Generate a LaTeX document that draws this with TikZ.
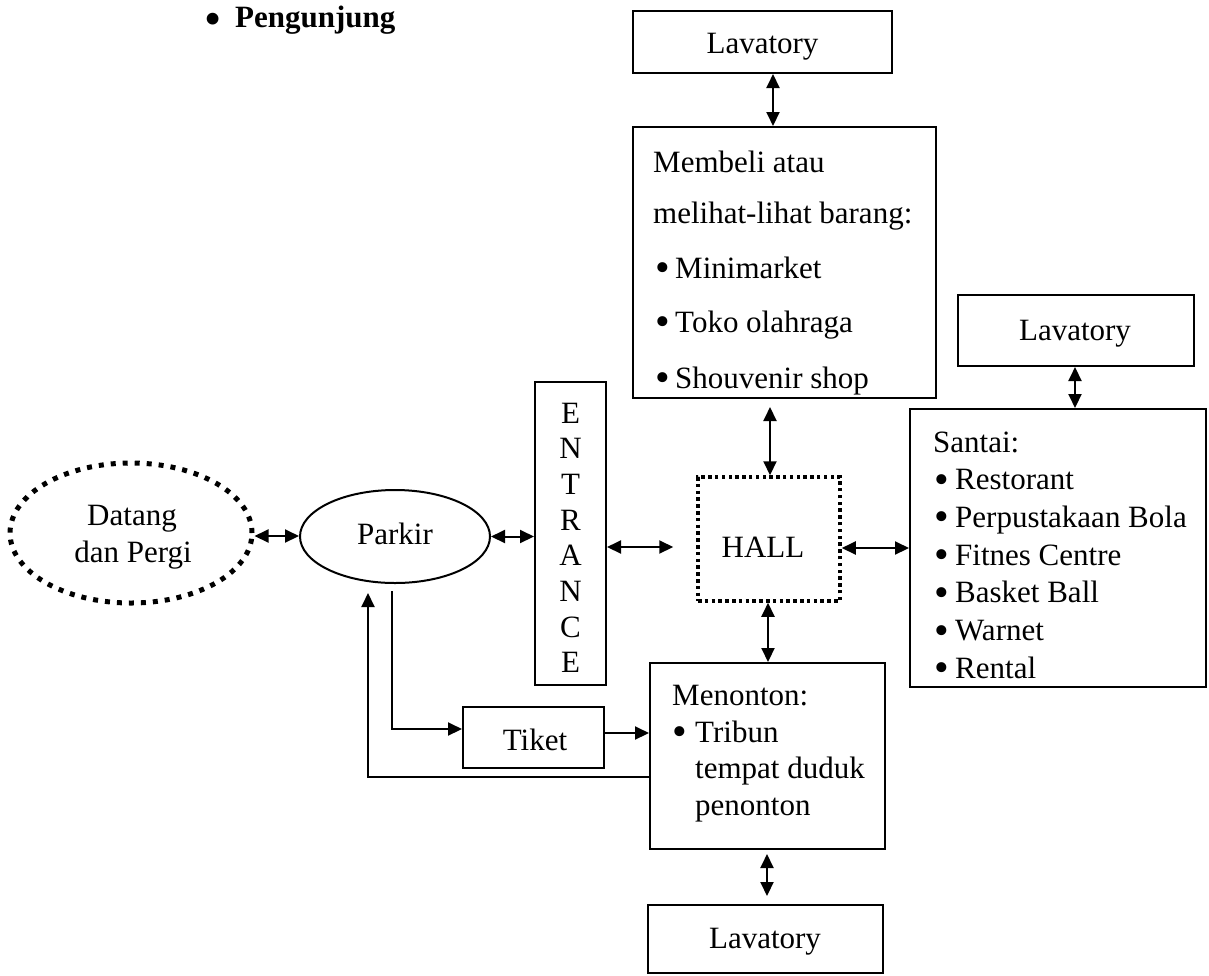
\documentclass[tikz,border=0pt]{standalone}
\usepackage{fontspec}
\setmainfont{Liberation Serif}
\usetikzlibrary{arrows.meta,shapes.geometric}
% enlarged bullet (no extra height or depth) followed by a fixed hanging indent
\newcommand\itm[1][19pt]{\makebox[#1][l]{\raisebox{-3.5pt}[0pt][0pt]{\scalebox{1.35}{•}}}}

\begin{document}
\begin{tikzpicture}[x=1pt,y=-1pt,
  box/.style={draw, line width=2pt, inner sep=0pt, rectangle},
  lbl/.style={inner sep=0pt, font=\fontsize{31}{37}\selectfont, anchor=base west},
  clbl/.style={lbl, anchor=base},
  link/.style={line width=2pt, {Triangle[length=14pt,width=13pt]}-{Triangle[length=14pt,width=13pt]}},
  oneway/.style={line width=2pt, -{Triangle[length=14pt,width=13pt]}},
]
\useasboundingbox (0,0) rectangle (1209,975);

% heading
\node[clbl, font=\fontsize{31}{37}\selectfont\bfseries] (headbullet) at (213,30) {\raisebox{-3.5pt}[0pt][0pt]{\scalebox{1.4}{•}}};
\node[lbl, font=\fontsize{31}{37}\selectfont\bfseries] (heading) at (235,27) {Pengunjung};

% boxes
\node[box, minimum width=259pt, minimum height=62pt] (toplav) at (762.5,42) {};
\node[box, minimum width=303pt, minimum height=271pt] (shop) at (784.5,262.5) {};
\node[box, minimum width=236pt, minimum height=71pt] (santlav) at (1076,330.5) {};
\node[box, minimum width=296pt, minimum height=278pt] (santai) at (1058,548) {};
\node[box, minimum width=71pt, minimum height=303pt] (entrance) at (570.5,533.5) {};
\node[draw, line width=3.5pt, dash pattern=on 3.5pt off 3.3pt, inner sep=0pt,
      minimum width=142pt, minimum height=124pt] (hall) at (769,539) {};
\node[box, minimum width=235pt, minimum height=186pt] (menonton) at (767.5,756) {};
\node[box, minimum width=235pt, minimum height=68pt] (botlav) at (765.5,939) {};
\node[box, minimum width=141pt, minimum height=61pt] (tiket) at (533.5,737.5) {};
\node[draw, ellipse, line width=2pt, inner sep=0pt,
      minimum width=190pt, minimum height=93pt] (parkir) at (395,536.5) {};
\node[draw, ellipse, line width=5pt, dash pattern=on 5pt off 7pt, inner sep=0pt,
      minimum width=242pt, minimum height=140pt] (datang) at (131,533) {};

% labels
\node[clbl] (toplav-t) at (762.5,53) {Lavatory};
\node[clbl] (santlav-t) at (1075,340) {Lavatory};
\node[clbl] (botlav-t) at (765,948) {Lavatory};
\node[clbl] (tiket-t) at (535,750) {Tiket};
\node[clbl] (hall-t) at (763,557) {HALL};
\node[clbl] (parkir-t) at (395,544) {Parkir};
\node[clbl] (datang-t1) at (132,525) {Datang};
\node[clbl] (datang-t2) at (133,562) {dan Pergi};

\node[lbl] (shop-1) at (653,172) {Membeli atau};
\node[lbl] (shop-2) at (653,223) {melihat-lihat barang:};
\node[lbl] (shop-3) at (655,278) {\itm[20pt]Minimarket};
\node[lbl] (shop-4) at (655,332) {\itm[20pt]Toko olahraga};
\node[lbl] (shop-5) at (655,388) {\itm[20pt]Shouvenir shop};

\node[lbl] (santai-0) at (933,452) {Santai:};
\foreach \t [count=\i] in {Restorant,Perpustakaan Bola,Fitnes Centre,Basket Ball,Warnet,Rental}
  \node[lbl] (santai-\i) at (934,452+37.7*\i) {\itm[21pt]\t};

\node[lbl] (nonton-1) at (672,705) {Menonton:};
\node[lbl] (nonton-2) at (672,742) {\itm[23pt]Tribun};
\node[lbl] (nonton-3) at (695,778) {tempat duduk};
\node[lbl] (nonton-4) at (695,815) {penonton};

\foreach \c [count=\i from 0] in {E,N,T,R,A,N,C,E}
  \node[clbl] (entr-\i) at (570.5,423+35.7*\i) {\c};

% connectors
\coordinate (xa) at (773,0);
\coordinate (xb) at (770,0);
\coordinate (xc) at (1075,0);
\coordinate (yd) at (0,548);
\coordinate (ye) at (0,547);
\coordinate (yg) at (0,536);
\coordinate (xh) at (768,0);
\coordinate (xi) at (767,0);
\coordinate (xj) at (392,0);
\coordinate (yj) at (0,729);
\coordinate (yk) at (0,733);
\coordinate (xl) at (368,0);
\coordinate (yl) at (0,777);

\draw[link] (toplav.south -| xa) -- (shop.north -| xa);
\draw[link, shorten <=8pt] (shop.south -| xb) -- (hall.north -| xb);
\draw[link] (santlav.south -| xc) -- (santai.north -| xc);
\draw[link] (hall.east |- yd) -- (santai.west |- yd);
\draw[link, shorten >=23pt] (entrance.east |- ye) -- (hall.west |- ye);
\draw[link] (parkir.east) -- (parkir.east -| entrance.west);
\draw[link] (datang.east |- yg) -- (parkir.west |- yg);
\draw[link] (hall.south -| xh) -- (menonton.north -| xh);
\draw[link, shorten <=4pt, shorten >=8pt] (menonton.south -| xi) -- (botlav.north -| xi);
\draw[oneway, shorten <=7pt] (parkir.south -| xj) -- (xj |- yj) -- (tiket.west |- yj);
\draw[oneway] (tiket.east |- yk) -- (menonton.west |- yk);
\draw[oneway, shorten >=9pt] (menonton.west |- yl) -- (xl |- yl) -- (xl |- parkir.south);
\end{tikzpicture}
\end{document}
